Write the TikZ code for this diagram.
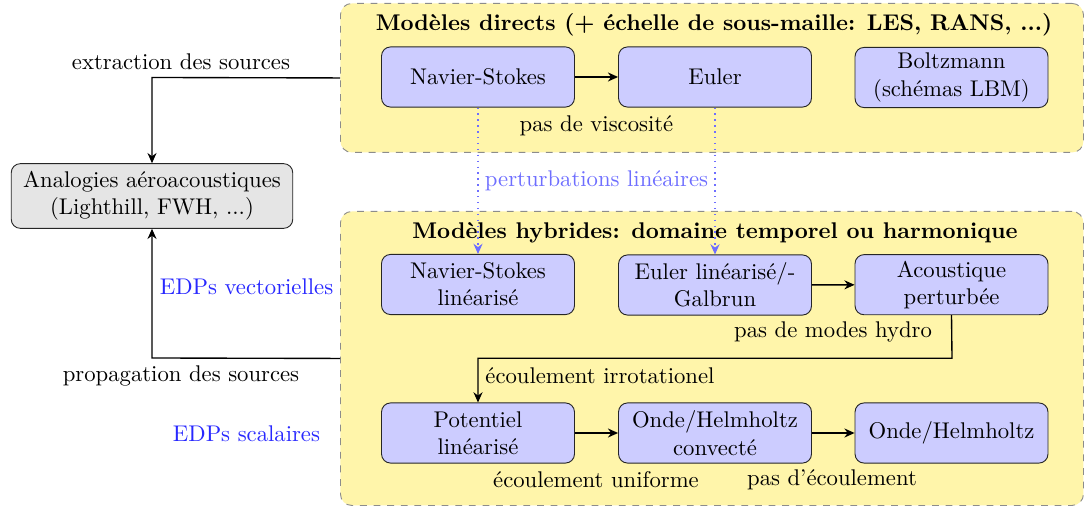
\documentclass[tikz,border=0pt]{standalone}
\usetikzlibrary{arrows.meta,calc}
\definecolor{zoneyellow}{RGB}{255,245,170}
\definecolor{nodeblue}{RGB}{204,204,255}
\definecolor{pertblue}{RGB}{110,110,255}
\definecolor{edpblue}{RGB}{40,40,255}
\tikzset{
  model/.style={draw=black!85, fill=nodeblue, rounded corners=4pt, minimum width=85pt, minimum height=26.5pt, align=center, inner sep=2pt},
  analog/.style={draw=black!85, fill=black!10, rounded corners=4pt, minimum width=124pt, minimum height=28.5pt, align=center, inner sep=2pt},
  zone/.style={draw=black!45, dashed, fill=zoneyellow, rounded corners=5pt},
  flow/.style={-{Stealth[length=4.5pt,width=4pt]}, semithick},
  pert/.style={pertblue, dotted, semithick, -{Stealth[length=4.5pt,width=4pt]}},
  lbl/.style={inner sep=0pt},
  ztitle/.style={font=\bfseries, inner sep=0pt},
}
\begin{document}
\begin{tikzpicture}[x=0.4405pt, y=-0.4405pt]
\useasboundingbox (0,0) rectangle (1085,506);
% zones
\node[zone, minimum width=743*0.4405pt, minimum height=149*0.4405pt, anchor=north west] (direct) at (340,3) {};
\node[zone, minimum width=743*0.4405pt, minimum height=294*0.4405pt, anchor=north west] (hybrid) at (340,211) {};
\node[ztitle] (tdirect) at (714,25) {Modèles directs (+ échelle de sous-maille: LES, RANS, ...)};
\node[ztitle] (thybrid) at (715,233) {Modèles hybrides: domaine temporel ou harmonique};
% direct models
\node[model] (ns) at (478,77) {Navier-Stokes};
\node[model] (eu) at (715,77) {Euler};
\node[model] (bo) at (951.5,77.5) {Boltzmann\\(schémas LBM)};
% hybrid models
\node[model] (nsl) at (478,284.5) {Navier-Stokes\\linéarisé};
\node[model] (eul) at (715,285) {Euler linéarisé/-\\Galbrun};
\node[model] (ap) at (951.5,284.7) {Acoustique\\perturbée};
\node[model] (pot) at (478,433) {Potentiel\\linéarisé};
\node[model] (ohc) at (715,433) {Onde/Helmholtz\\convecté};
\node[model] (oh) at (951.5,433) {Onde/Helmholtz};
% analogies
\node[analog] (an) at (152,196) {Analogies aéroacoustiques\\(Lighthill, FWH, ...)};
% arrows inside
\draw[flow] (ns) -- (eu);
\draw[flow] (eul) -- (ap);
\draw[flow] (pot) -- (ohc);
\draw[flow] (ohc) -- (oh);
\coordinate (c1) at (952,358.3);
\coordinate (c2) at (478,358.3);
\draw[flow] (ap.south) -- (c1) -- (c2) -- (pot.north);
% perturbations
\draw[pert] (ns.south) -- (nsl.north);
\draw[pert] (eu.south) -- (eul.north);
\node[lbl, text=pertblue] (pl) at (596.5,181) {perturbations linéaires};
% labels
\node[lbl] (l1) at (596.5,126) {pas de viscosité};
\node[lbl] (l2) at (833,331.5) {pas de modes hydro};
\node[lbl, anchor=west] (l3) at (485,376) {écoulement irrotationel};
\node[lbl] (l4) at (596,480) {écoulement uniforme};
\node[lbl] (l5) at (832,480) {pas d’écoulement};
% left connections
\coordinate (e1) at (152,77.5);
\draw[flow] (direct.west) -- (e1) -- (an.north);
\coordinate (p1) at (152,358);
\draw[flow] (hybrid.west) -- (p1) -- (an.south);
\node[lbl] (ex) at (181,62) {extraction des sources};
\node[lbl] (pr) at (181,376) {propagation des sources};
\node[lbl, text=edpblue] (ev) at (246.5,286.5) {EDPs vectorielles};
\node[lbl, text=edpblue] (es) at (246.5,433.5) {EDPs scalaires};
\end{tikzpicture}
\end{document}
